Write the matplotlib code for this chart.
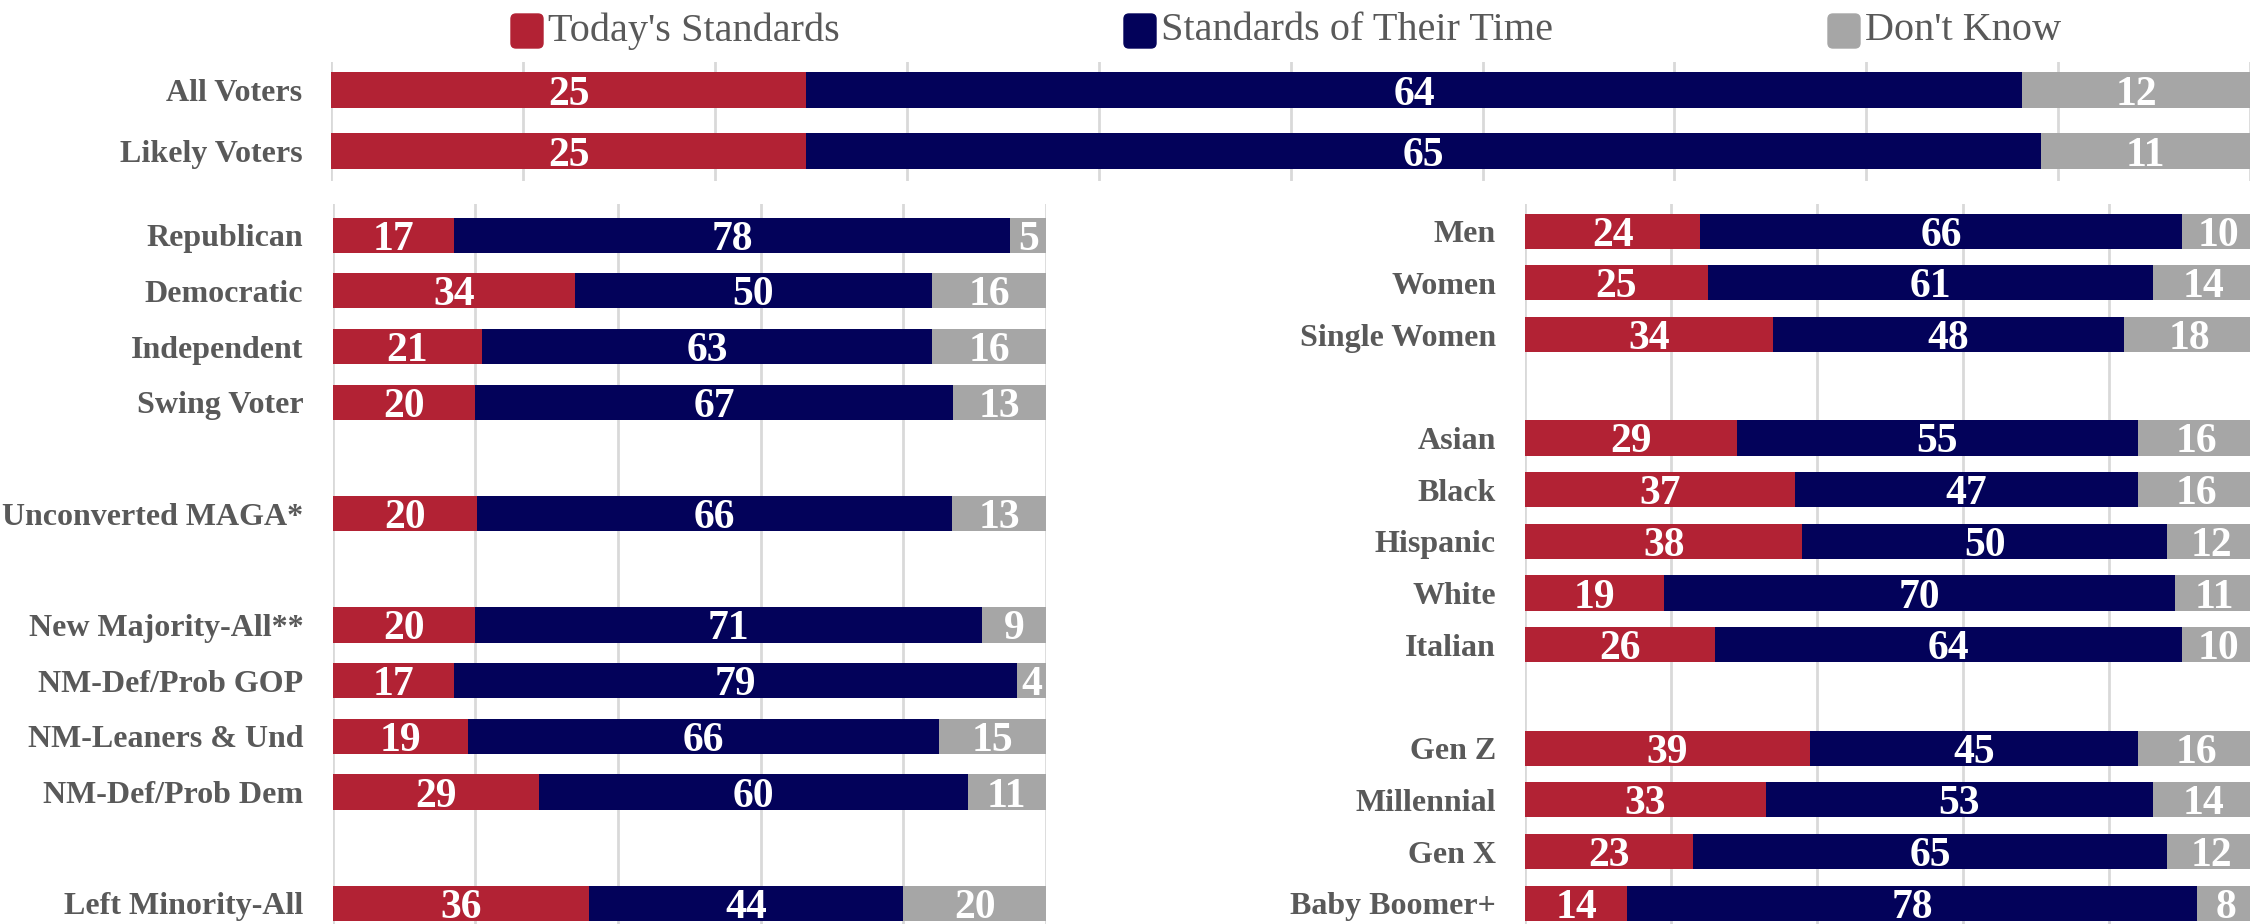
import numpy as np
import matplotlib.pyplot as plt
from matplotlib.patches import FancyBboxPatch

plt.rcParams['font.family'] = ['Liberation Serif', 'DejaVu Serif']

RED = '#B22234'
NAVY = '#03025A'
GRAY = '#A6A6A6'
TXT = '#595959'

series = ["Today's Standards", "Standards of Their Time", "Don't Know"]

# top block
top_cats = ["All Voters", "Likely Voters"]
top_today = [25, 25]
top_their = [64, 65]
top_dk = [12, 11]

# left block ("" = spacer row)
left_cats = ["Republican", "Democratic", "Independent", "Swing Voter", "",
             "Unconverted MAGA*", "", "New Majority-All**", "NM-Def/Prob GOP",
             "NM-Leaners & Und", "NM-Def/Prob Dem", "", "Left Minority-All"]
left_today = [17, 34, 21, 20, None, 20, None, 20, 17, 19, 29, None, 36]
left_their = [78, 50, 63, 67, None, 66, None, 71, 79, 66, 60, None, 44]
left_dk = [5, 16, 16, 13, None, 13, None, 9, 4, 15, 11, None, 20]

# right block
right_cats = ["Men", "Women", "Single Women", "", "Asian", "Black", "Hispanic",
              "White", "Italian", "", "Gen Z", "Millennial", "Gen X", "Baby Boomer+"]
right_today = [24, 25, 34, None, 29, 37, 38, 19, 26, None, 39, 33, 23, 14]
right_their = [66, 61, 48, None, 55, 47, 50, 70, 64, None, 45, 53, 65, 78]
right_dk = [10, 14, 18, None, 16, 16, 12, 11, 10, None, 16, 14, 12, 8]


def draw(ax, cats, today, their, dk, xticks, ylim, height):
    idx = [i for i, c in enumerate(cats) if c]
    y = np.array(idx)
    a = np.array([today[i] for i in idx], dtype=float)
    b = np.array([their[i] for i in idx], dtype=float)
    c = np.array([dk[i] for i in idx], dtype=float)
    # 100% stacked: each row fills the axis
    tot = (a + b + c) / 100
    pa, pb, pc = a / tot, b / tot, c / tot
    lefts = [np.zeros_like(pa), pa, pa + pb]
    for vals, raw, left, col in zip([pa, pb, pc], [a, b, c], lefts, [RED, NAVY, GRAY]):
        ax.barh(y, vals, left=left, height=height, color=col, zorder=2)
        for yy, v, r, l in zip(y, vals, raw, left):
            ax.text(l + v / 2, yy, f"{int(r)}", ha='center', va='center_baseline',
                    color='white', fontsize=30, fontweight='bold', zorder=3)
    ax.set_xlim(0, 100)
    ax.set_ylim(*ylim)
    ax.set_xticks(xticks)
    ax.grid(axis='x', color='#D9D9D9', lw=2, zorder=0)
    ax.set_axisbelow(True)
    ax.set_yticks(y)
    ax.set_yticklabels([cats[i] for i in idx], fontsize=23, fontweight='bold', color=TXT)
    ax.tick_params(length=0, labelbottom=False, pad=21)
    for s in ax.spines.values():
        s.set_visible(False)


fig = plt.figure(figsize=(22.5, 9.24), dpi=100)

ax_top = fig.add_axes([0.1473, 0.8041, 0.8527, 0.1288])
draw(ax_top, top_cats, top_today, top_their, top_dk, np.arange(0, 101, 10),
     (1.49, -0.46), 0.59)

ax_left = fig.add_axes([0.1478, 0.0, 0.3171, 0.779])
draw(ax_left, left_cats, left_today, left_their, left_dk, np.arange(0, 101, 20),
     (12.37, -0.556), 0.63)

ax_right = fig.add_axes([0.6778, 0.0, 0.3244, 0.779])
draw(ax_right, right_cats, right_today, right_their, right_dk, np.arange(0, 101, 20),
     (13.4, -0.52), 0.68)

# legend
leg_x = [5.11, 11.24, 18.28]
for x, name, col in zip(leg_x, series, [RED, NAVY, GRAY]):
    fig.add_artist(FancyBboxPatch((x, 9.24 - 0.48), 0.32, 0.34,
                                  boxstyle="round,pad=0,rounding_size=0.05",
                                  transform=fig.dpi_scale_trans, color=col))
    fig.text((x + 0.37) / 22.5, 1 - 0.31 / 9.24, name, ha='left', va='center',
             fontsize=29, color=TXT)

fig.savefig('out.png', dpi=100)
